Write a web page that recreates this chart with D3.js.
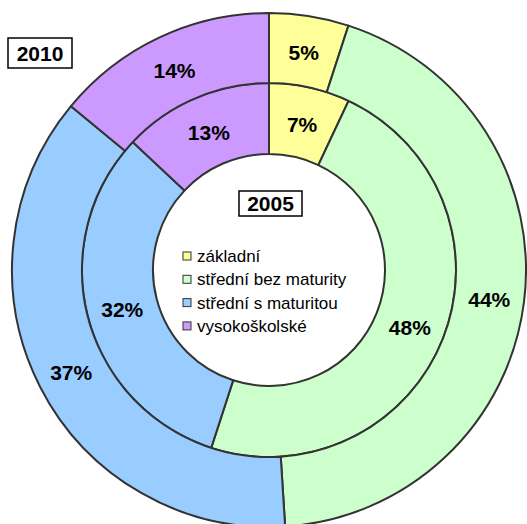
<!DOCTYPE html>
<html>
<head>
<meta charset="utf-8">
<script src="https://cdn.jsdelivr.net/npm/d3@7"></script>
<style>
  body { margin: 0; background: #fff; }
  svg { display: block; font-family: "Liberation Sans", Arial, sans-serif; }
</style>
</head>
<body>
<svg id="chart" width="527" height="524"></svg>
<script>
// categories and shares (%)
let categories = ["základní", "střední bez maturity", "střední s maturitou", "vysokoškolské"];
let values2005 = [7, 48, 32, 13];   // inner ring
let values2010 = [5, 44, 37, 14];   // outer ring
let colors = ["#FFFF99", "#CCFFCC", "#99CCFF", "#CC99FF"];

let svg = d3.select("#chart"),
    cx = 269,
    cy = 270;

let color = d3.scaleOrdinal().domain(categories).range(colors);

let pie = d3.pie().sort(null).value(function (d) { return d.value; });

function toData(vals) {
    return vals.map(function (v, i) { return {key: categories[i], value: v}; });
}

let rings = [
    {year: "2005", values: values2005, inner: 116, outer: 187},
    {year: "2010", values: values2010, inner: 187, outer: 257}
];

let g = svg.append("g").attr("transform", "translate(" + cx + "," + cy + ")");

rings.forEach(function (ring) {
    let arc = d3.arc().innerRadius(ring.inner).outerRadius(ring.outer);
    let arcs = pie(toData(ring.values));

    let rg = g.append("g").attr("class", "ring-" + ring.year);

    rg.selectAll("path")
        .data(arcs)
        .enter()
        .append("path")
        .attr("d", arc)
        .attr("fill", function (d) { return color(d.data.key); })
        .attr("stroke", "#333")
        .attr("stroke-width", 2)
        .attr("stroke-linejoin", "round");

    rg.selectAll("text")
        .data(arcs)
        .enter()
        .append("text")
        .attr("transform", function (d) {
            let c = arc.centroid(d);
            return "translate(" + c[0] + "," + (c[1] + 2) + ")";
        })
        .attr("text-anchor", "middle")
        .attr("dy", "0.35em")
        .attr("font-size", 21)
        .attr("font-weight", "bold")
        .attr("fill", "#000")
        .text(function (d) { return d.data.value + "%"; });
});

// year boxes
function yearBox(x, y, w, h, label) {
    svg.append("rect")
        .attr("x", x).attr("y", y)
        .attr("width", w).attr("height", h)
        .attr("fill", "#fff")
        .attr("stroke", "#000")
        .attr("stroke-width", 1.5);
    svg.append("text")
        .attr("x", x + w / 2)
        .attr("y", y + h / 2)
        .attr("dy", "0.36em")
        .attr("text-anchor", "middle")
        .attr("font-size", 21)
        .attr("font-weight", "bold")
        .text(label);
}
yearBox(8, 38, 64, 30, "2010");
yearBox(239, 191, 63, 25, "2005");

// legend in the hole
let legend = svg.append("g")
    .attr("class", "legend")
    .attr("transform", "translate(183, 252)");

let rowH = 23.3;

legend.selectAll("rect")
    .data(categories)
    .enter()
    .append("rect")
    .attr("x", 0)
    .attr("y", function (d, i) { return i * rowH; })
    .attr("width", 8)
    .attr("height", 8)
    .attr("fill", function (d) { return color(d); })
    .attr("stroke", "#333")
    .attr("stroke-width", 1);

legend.selectAll("text")
    .data(categories)
    .enter()
    .append("text")
    .attr("x", 14)
    .attr("y", function (d, i) { return i * rowH + 4; })
    .attr("dy", "0.35em")
    .attr("font-size", 17)
    .attr("fill", "#000")
    .text(function (d) { return d; });
</script>
</body>
</html>
